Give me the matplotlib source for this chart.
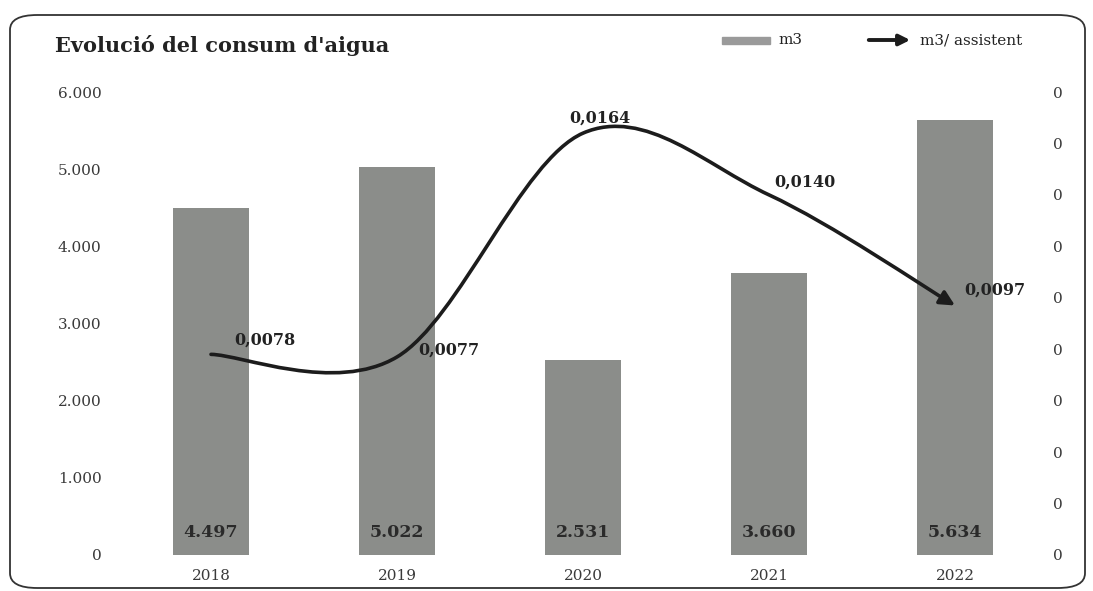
import numpy as np
import matplotlib.pyplot as plt
from matplotlib.path import Path
from matplotlib.patches import FancyArrowPatch, FancyBboxPatch, Rectangle

plt.rcParams['font.family'] = ['DejaVu Serif']

anys = ['2018', '2019', '2020', '2021', '2022']
m3 = [4497, 5022, 2531, 3660, 5634]
m3_assistent = [0.0078, 0.0077, 0.0164, 0.0140, 0.0097]
etiq_m3 = ['4.497', '5.022', '2.531', '3.660', '5.634']
etiq_ratio = ['0,0078', '0,0077', '0,0164', '0,0140', '0,0097']

W, H = 1093, 591
fig = plt.figure(figsize=(W / 100, H / 100), dpi=100)
ax = fig.add_axes([110 / W, 36 / H, 930 / W, 463 / H])
ax2 = ax.twinx()

x = np.arange(len(anys))
gris = '#8b8d8a'
negre = '#1c1c1c'

ax.bar(x, m3, width=0.41, color=gris, zorder=1)
for xi, t in zip(x, etiq_m3):
    ax.text(xi, 290, t, ha='center', va='center', fontsize=12.5,
            fontweight='bold', color='#2a2a2a')

ax.set_ylim(0, 6000)
ax.set_xlim(-0.543, 4.457)
ax.set_yticks(np.arange(0, 6001, 1000))
ax.set_yticklabels(['0', '1.000', '2.000', '3.000', '4.000', '5.000', '6.000'])
ax.set_xticks(x)
ax.set_xticklabels(anys)

ax2.set_ylim(0, 0.018)
ax2.set_yticks(np.arange(0, 0.0181, 0.002))
ax2.set_yticklabels(['0'] * 10)

for a in (ax, ax2):
    for s in a.spines.values():
        s.set_visible(False)
    a.tick_params(length=0, labelsize=11, colors='#3a3a3a')
ax.tick_params(axis='y', pad=6)
ax.tick_params(axis='x', pad=10)
ax2.tick_params(axis='y', pad=9)

# corba suavitzada (Bezier, com Excel)
pts = np.column_stack([x, m3_assistent])
verts = [pts[0]]
codes = [Path.MOVETO]
n = len(pts)
for i in range(n - 1):
    p_prev = pts[max(i - 1, 0)]
    p_next2 = pts[min(i + 2, n - 1)]
    c1 = pts[i] + (pts[i + 1] - p_prev) / 6
    c2 = pts[i + 1] - (p_next2 - pts[i]) / 6
    verts += [c1, c2, pts[i + 1]]
    codes += [Path.CURVE4] * 3
corba = FancyArrowPatch(path=Path(verts, codes), arrowstyle='-|>',
                        mutation_scale=22, lw=2.6, color=negre, zorder=3)
ax2.add_patch(corba)

offs = [(17, 10), (15, 5), (12, 11), (4, 9), (7, 11)]
for xi, yi, t, o in zip(x, m3_assistent, etiq_ratio, offs):
    ax2.annotate(t, (xi, yi), xytext=o, textcoords='offset points',
                 ha='left' if o != offs[2] else 'center', va='center',
                 fontsize=11.5, fontweight='bold', color='#222222', zorder=4)

fig.text(55 / W, 1 - 45 / H, "Evolució del consum d'aigua", fontsize=15,
         fontweight='bold', color='#222222', va='center')

# llegenda
fig.patches.append(Rectangle((722 / W, 1 - 44 / H), 48 / W, 7 / H,
                             transform=fig.transFigure, color='#9a9a9a'))
fig.text(778 / W, 1 - 40 / H, 'm3', fontsize=11, va='center', color='#222222')
fig.patches.append(FancyArrowPatch((866 / W, 1 - 40 / H), (913 / W, 1 - 40 / H),
                                   transform=fig.transFigure, arrowstyle='-|>',
                                   mutation_scale=16, lw=2.8, color=negre))
fig.text(920 / W, 1 - 40 / H, 'm3/ assistent', fontsize=11, va='center',
         color='#222222')

# marc arrodonit
fig.patches.append(FancyBboxPatch((10 / W, 3 / H), 1075 / W, 573 / H,
                                  boxstyle='round,pad=0,rounding_size=0.025',
                                  transform=fig.transFigure, fill=False,
                                  ec='#333333', lw=1.3, zorder=0))

fig.savefig('out.png', dpi=100)
